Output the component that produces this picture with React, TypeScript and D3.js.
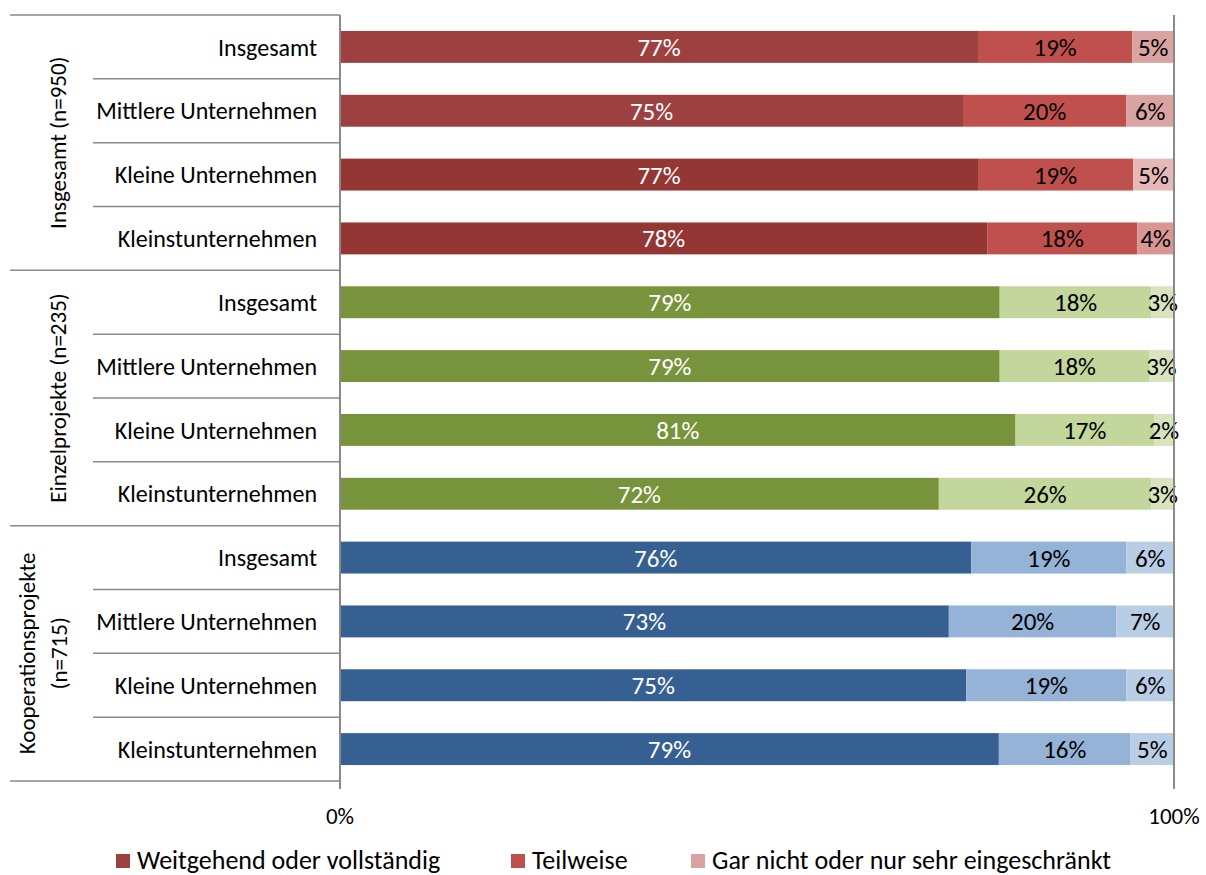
import React from "react";
import * as d3 from "d3";

const groups = ["Insgesamt (n=950)", "Einzelprojekte (n=235)", "Kooperationsprojekte (n=715)"];
const categories = ["Insgesamt", "Mittlere Unternehmen", "Kleine Unternehmen", "Kleinstunternehmen"];
const seriesNames = ["Weitgehend oder vollständig", "Teilweise", "Gar nicht oder nur sehr eingeschränkt"];
// values per row (group-major order)
const weitgehend = [76.5, 74.7, 76.5, 77.6, 79.1, 79.1, 81.0, 71.8, 75.7, 73.0, 75.1, 79.0];
const teilweise = [18.5, 19.6, 18.6, 18.0, 18.2, 17.9, 16.6, 25.5, 18.6, 20.1, 19.2, 15.8];
const garNicht = [5.0, 5.7, 4.9, 4.4, 2.7, 3.0, 2.4, 2.7, 5.7, 6.9, 5.7, 5.2];
const xTicks = [0, 100];

const darkColors = ["#9C4140", "#9C4140", "#943634", "#943634", "#77933C", "#77933C", "#77933C", "#77933C", "#376092", "#376092", "#376092", "#376092"];
const midColors = ["#C0504D", "#C0504D", "#C0504D", "#C0504D", "#C3D69B", "#C3D69B", "#C3D69B", "#C3D69B", "#95B3D7", "#95B3D7", "#95B3D7", "#95B3D7"];
const lightColors = ["#D9A3A2", "#D9A3A2", "#E6B9B8", "#D99694", "#D7E4BD", "#D7E4BD", "#D7E4BD", "#D7E4BD", "#B9CDE5", "#B9CDE5", "#B9CDE5", "#B9CDE5"];
const legendColors = ["#9C4140", "#C0504D", "#D9A3A2"];
const legendX = [116, 511, 691];

const FONT = "Carlito, Calibri, Lato, sans-serif";
const GRID = "#898989";

export default function App() {
  const W = 1206, H = 875;
  const top = 15, bottom = 781;
  const x = d3.scaleLinear().domain([0, 100]).range([340, 1174]);
  const rows = d3.range(groups.length * categories.length);
  const y = d3.scaleBand<number>().domain(rows).range([top, bottom]).paddingInner(0.5).paddingOuter(0.25);
  const gy = d3.scaleBand<number>().domain(d3.range(groups.length)).range([top, bottom]);
  const step = y.step();

  const stacks = rows.map((i) => {
    const vals = [weitgehend[i], teilweise[i], garNicht[i]];
    const cols = [darkColors[i], midColors[i], lightColors[i]];
    let acc = 0;
    return vals.map((v, k) => {
      const s = { x0: acc, x1: acc + v, v, color: cols[k], k };
      acc += v;
      return s;
    });
  });

  return (
    <svg width={W} height={H} style={{ position: "absolute", left: 0, top: 0, background: "#fff" }}>
      {/* group separators */}
      {d3.range(groups.length + 1).map((g) => {
        const yy = g < groups.length ? gy(g)! : bottom;
        return <line key={"gs" + g} x1={10} x2={340} y1={yy} y2={yy} stroke={GRID} strokeWidth={1.5} />;
      })}
      {/* within-group separators */}
      {rows.filter((i) => i % categories.length !== 0).map((i) => {
        const yy = y(i)! - (step - y.bandwidth()) / 2;
        return <line key={"is" + i} x1={93} x2={340} y1={yy} y2={yy} stroke={GRID} strokeWidth={1.5} />;
      })}
      {/* bars */}
      {stacks.map((segs, i) =>
        segs.map((s) => (
          <rect key={"b" + i + "-" + s.k} x={x(s.x0)} y={y(i)} width={x(s.x1) - x(s.x0)} height={y.bandwidth()} fill={s.color} />
        ))
      )}
      {/* value labels */}
      {stacks.map((segs, i) =>
        segs.map((s) => (
          <text key={"l" + i + "-" + s.k} x={(x(s.x0) + x(s.x1)) / 2} y={y(i)! + y.bandwidth() / 2} dy="0.36em"
            textAnchor="middle" fontFamily={FONT} fontSize={25} fill={s.k === 0 ? "#fff" : "#000"}>
            {Math.round(s.v) + "%"}
          </text>
        ))
      )}
      {/* vertical axis lines */}
      {xTicks.map((t) => (
        <line key={"v" + t} x1={x(t)} x2={x(t)} y1={top} y2={789} stroke={GRID} strokeWidth={2} />
      ))}
      {xTicks.map((t) => (
        <text key={"t" + t} x={x(t)} y={824} textAnchor="middle" fontFamily={FONT} fontSize={23} fill="#000">{t + "%"}</text>
      ))}
      {/* category labels */}
      {rows.map((i) => (
        <text key={"c" + i} x={317} y={y(i)! + y.bandwidth() / 2} dy="0.36em" textAnchor="end" fontFamily={FONT} fontSize={24} fill="#000">
          {categories[i % categories.length]}
        </text>
      ))}
      {/* group labels */}
      {groups.map((g, gi) => {
        const cy = gy(gi)! + gy.bandwidth() / 2;
        const lines = gi === 2 ? ["Kooperationsprojekte", "(n=715)"] : [g];
        const cx = lines.length === 2 ? 43 : 58;
        return (
          <text key={"g" + gi} transform={`translate(${cx},${cy}) rotate(-90)`} textAnchor="middle" fontFamily={FONT} fontSize={23} fill="#000">
            {lines.map((ln, li) => (
              <tspan key={li} x={0} y={(li - (lines.length - 1) / 2) * 32} dy="0.36em">{ln}</tspan>
            ))}
          </text>
        );
      })}
      {/* legend */}
      {seriesNames.map((n, k) => (
        <g key={"lg" + k}>
          <rect x={legendX[k]} y={854} width={14} height={14} fill={legendColors[k]} />
          <text x={legendX[k] + 21} y={869} fontFamily={FONT} fontSize={26} fill="#000">{n}</text>
        </g>
      ))}
    </svg>
  );
}
